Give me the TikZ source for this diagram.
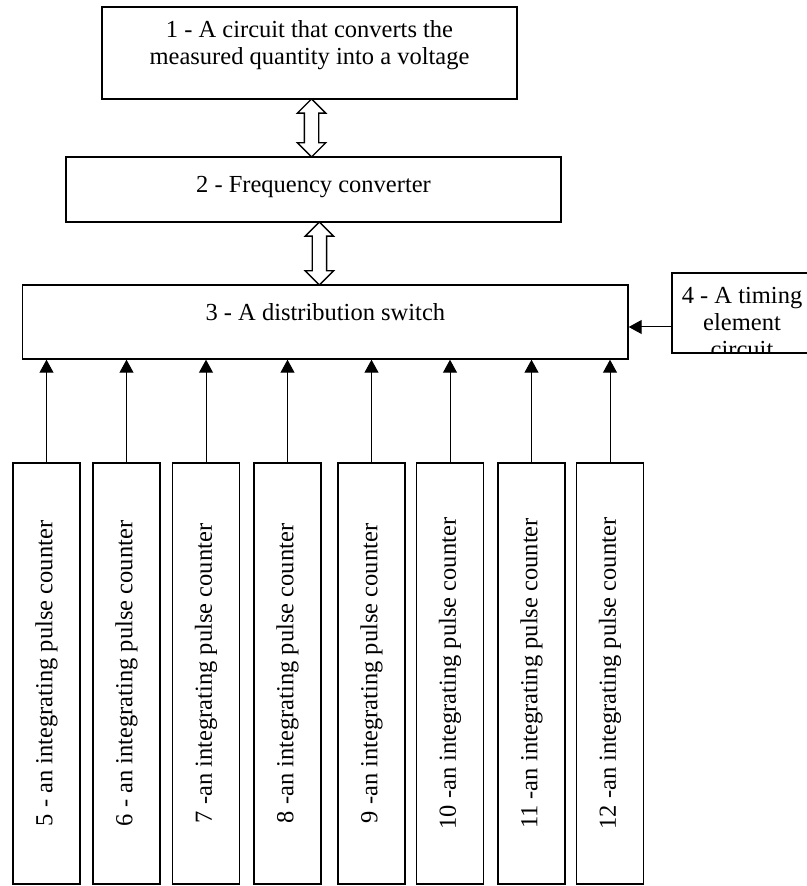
\documentclass[tikz,border=0pt]{standalone}
\usepackage{fontspec}
\setmainfont{Liberation Serif}
\usetikzlibrary{arrows.meta,shapes.arrows,calc}

\tikzset{
  box/.style={draw=black,line width=0.7pt,fill=white,inner sep=0pt,align=center,font=\fontsize{12.25}{13.5}\selectfont},
  counter/.style={box,minimum width=33.5pt,minimum height=210.5pt},
  link/.style={line width=0.5pt,-{Triangle[length=6.5pt,width=7pt]}},
  twoway/.style={double arrow,draw=black,line width=0.7pt,fill=white,rotate=90,inner xsep=0pt,inner ysep=3.25pt,double arrow head extend=3.5pt}
}

\begin{document}
\begin{tikzpicture}[x=0.5pt,y=-0.5pt]
\useasboundingbox (0,0) rectangle (806,886);

\node[box,minimum width=207.5pt,text height=29pt,text depth=17pt] (b1) at (309.5,53) {1 - A circuit that converts the\\measured quantity into a voltage};
\node[box,minimum width=247.5pt,text height=18pt,text depth=14.5pt] (b2) at (313.5,189.5) {2 - Frequency converter};
\node[box,minimum width=302.65pt,text height=18pt,text depth=19pt] (b3) at (325.35,322) {3 - A distribution switch};
\node[box,minimum width=75pt,minimum height=40pt] (b4) at (747,313) {};
\begin{scope}
\clip (b4.north west) rectangle (b4.south east);
\node[box,draw=none,fill=none,anchor=north,text height=42pt] (t4) at (742,273) {4 - A timing\\element\\circuit};
\end{scope}

\node[twoway,minimum height=29pt] (d12) at ($(b1.south)!0.5!(b2.north)$) {};
\node[twoway,minimum height=31.5pt] (d23) at ($(b2.south)!0.5!(b3.north)$) {};

\node[counter] (c5) at (46.5,673.5) {\rotatebox{90}{5 - an integrating pulse counter}};
\node[counter] (c6) at (126.5,673.5) {\rotatebox{90}{6 - an integrating pulse counter}};
\node[counter] (c7) at (206,673.5) {\rotatebox{90}{7 -an integrating pulse counter}};
\node[counter] (c8) at (287.5,673.5) {\rotatebox{90}{8 -an integrating pulse counter}};
\node[counter] (c9) at (371.5,673.5) {\rotatebox{90}{9 -an integrating pulse counter}};
\node[counter] (c10) at (450,673.5) {\rotatebox{90}{10 -an integrating pulse counter}};
\node[counter] (c11) at (531.5,673.5) {\rotatebox{90}{11 -an integrating pulse counter}};
\node[counter] (c12) at (610,673.5) {\rotatebox{90}{12 -an integrating pulse counter}};

\draw[link] (c5.north) -- (c5.north |- b3.south);
\draw[link] (c6.north) -- (c6.north |- b3.south);
\draw[link] (c7.north) -- (c7.north |- b3.south);
\draw[link] (c8.north) -- (c8.north |- b3.south);
\draw[link] (c9.north) -- (c9.north |- b3.south);
\draw[link] (c10.north) -- (c10.north |- b3.south);
\draw[link] (c11.north) -- (c11.north |- b3.south);
\draw[link] (c12.north) -- (c12.north |- b3.south);

\coordinate (t) at ([yshift=-7pt]b4.west);
\draw[link] (t) -- (t -| b3.east);
\end{tikzpicture}
\end{document}
